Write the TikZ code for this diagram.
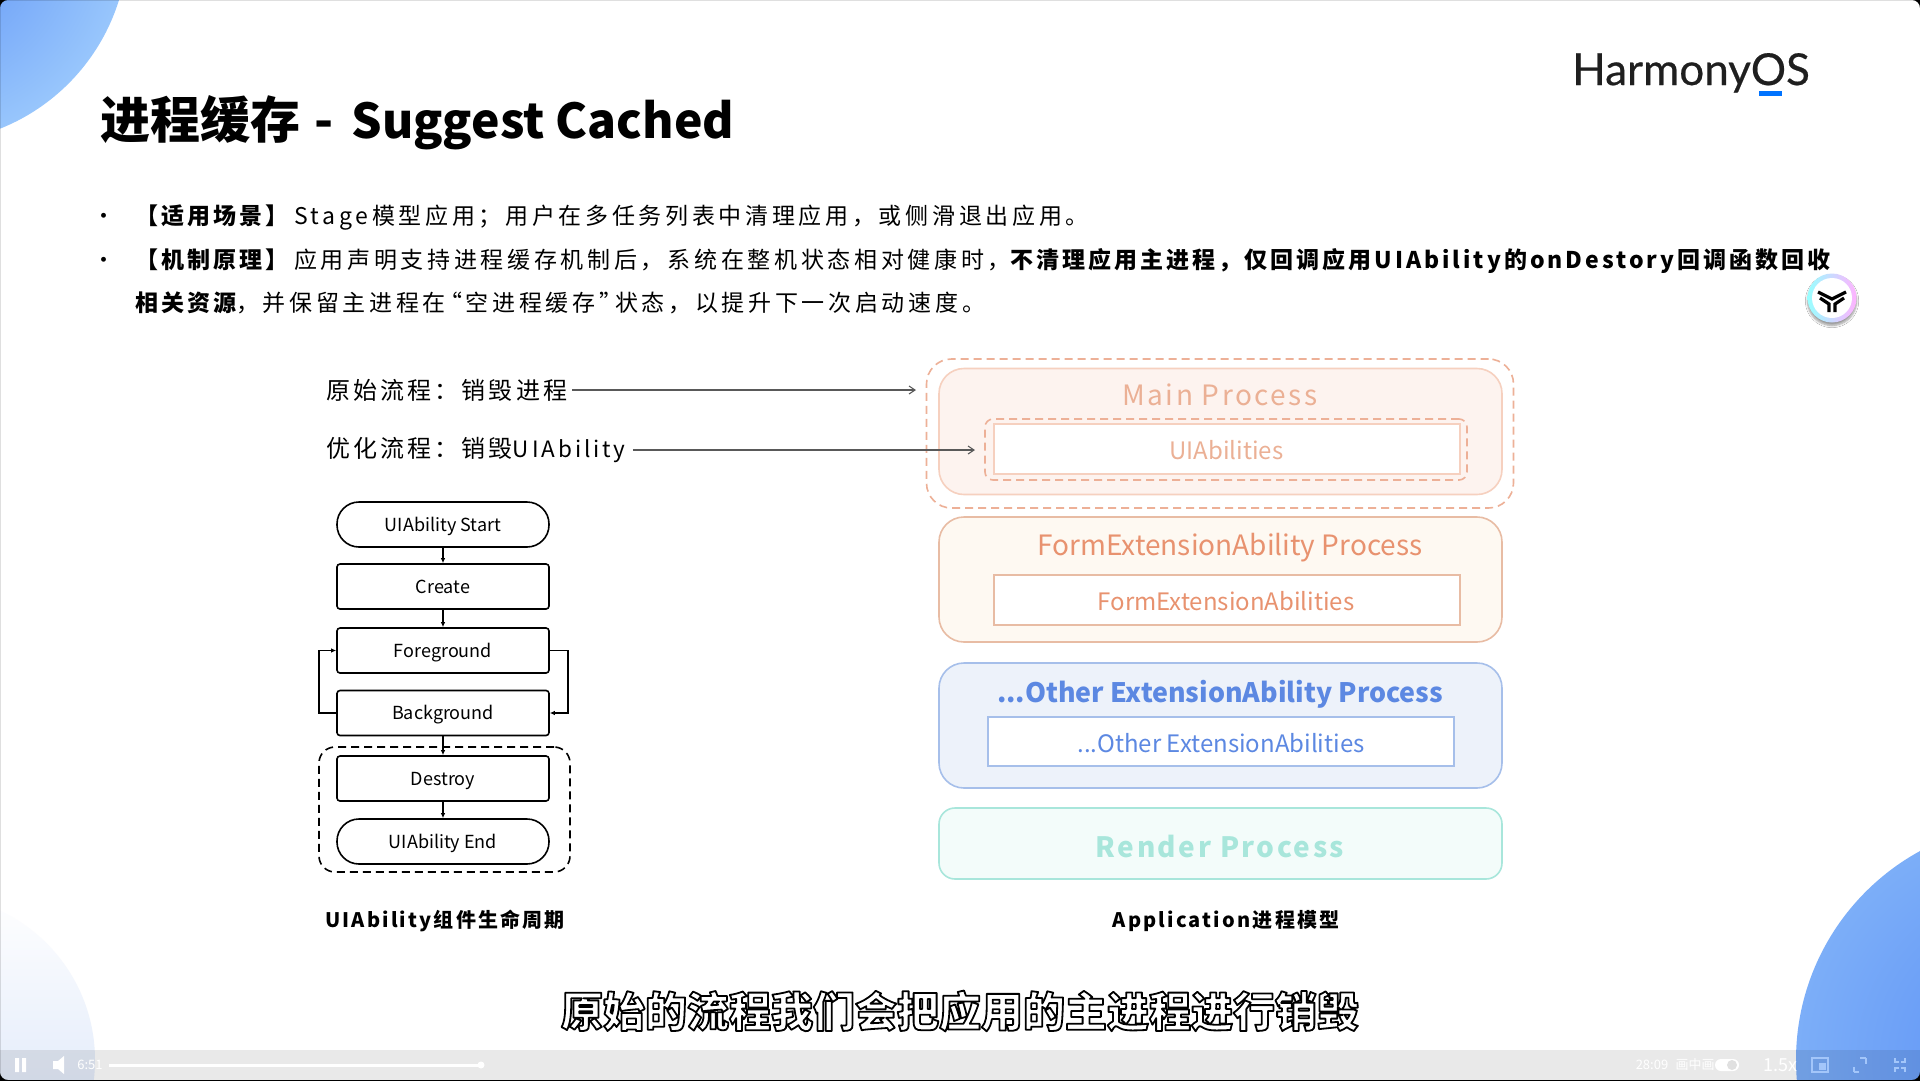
\documentclass[tikz,border=0pt]{standalone}
\usepackage{fontspec}
\usepackage{xcolor}
\usetikzlibrary{arrows.meta,calc,positioning,fit,shadows.blur}
\setmainfont{Noto Sans CJK SC}
\newfontfamily\bodyfont[LetterSpace=16]{Noto Sans CJK SC}
\newfontfamily\notefont[LetterSpace=13]{Noto Sans CJK SC}
\newfontfamily\wordfont{Noto Sans CJK SC}
\newfontfamily\widefont[LetterSpace=9]{Noto Sans CJK SC}
\newfontfamily\capfont[LetterSpace=11]{Noto Sans CJK SC}
\newfontfamily\logofont[FakeBold=0.5]{Lato}
\definecolor{mainline}{HTML}{F6D0BF}
\definecolor{mainfill}{HTML}{FDF3EF}
\definecolor{maintext}{HTML}{EBB095}
\definecolor{mainguide}{HTML}{EDB097}
\definecolor{formline}{HTML}{E8BCA4}
\definecolor{formfill}{HTML}{FEF9F2}
\definecolor{formtext}{HTML}{E8926F}
\definecolor{otherline}{HTML}{A6BFEA}
\definecolor{otherfill}{HTML}{EDF2FA}
\definecolor{othertext}{HTML}{5C88E2}
\definecolor{renderline}{HTML}{A8E6DB}
\definecolor{renderfill}{HTML}{F3FCFA}
\definecolor{blobdeep}{HTML}{5B90F6}
\definecolor{blobedge}{HTML}{98C6FC}
\definecolor{blobright}{HTML}{7CAEF8}
\definecolor{blobpale}{HTML}{D0DEF7}
\newcommand{\px}[1]{\fontsize{#1}{#1}\selectfont}
\newcommand{\zcomma}{\char"FF0C\relax}
\newcommand{\zsemi}{\char"FF1B\relax}
\newcommand{\zcolon}{\char"FF1A\relax}
\newcommand{\leadbf}[1]{{\notefont\bfseries #1}}
\begin{document}
\begin{tikzpicture}[
  x=1pt,y=-1pt,
  >={Straight Barb[length=6pt,width=8pt]},
  flowbox/.style={draw=black, line width=1.6pt, rounded corners=3pt, minimum width=212pt, minimum height=45pt, inner sep=0pt, text height=13pt, text depth=0pt, font=\wordfont\px{18}},
  flowpill/.style={flowbox, rounded corners=22pt},
  flowarrow/.style={-{Latex[length=5pt,width=4.5pt]}, line width=1.5pt, black},
  procbox/.style={line width=1.6pt, rounded corners=25pt, minimum width=563pt, inner sep=0pt},
  abilitybox/.style={fill=white, line width=1.6pt, inner sep=0pt},
  bigtext/.style={text height=20pt, text depth=0pt, inner sep=0pt},
  smalltext/.style={text height=17pt, text depth=0pt, inner sep=0pt, font=\wordfont\px{24}},
  pointer/.style={->, line width=1.1pt, black!65},
  guide/.style={dashed, dash pattern=on 8pt off 5pt, line width=1.6pt},
  barlabel/.style={white, font=\wordfont\px{13}},
  caption/.style={text height=14.5pt, text depth=0pt, inner sep=0pt, font=\capfont\bfseries\px{20}},
  bodyline/.style={anchor=base west, inner sep=0pt, font=\bodyfont\px{23}}
]
\useasboundingbox (0,0) rectangle (1920,1080);
\fill[white] (0,0) rectangle (1920,1080);

% corner blobs, clipped by the page
\begin{scope}
  \clip (0,0) rectangle (1920,1080);
  \shade[inner color=blobdeep, outer color=blobedge] (-75,-60) circle (203);
  \shade[top color=white, bottom color=blobpale] (-70,1060) circle (165);
  \shade[inner color=blobdeep, outer color=blobright] (2034,1060) circle (238);
\end{scope}

% heading and bullets
\node[anchor=base west, inner sep=0pt, font=\bfseries\px{50}] (title) at (100,138) {进程缓存\hspace{14pt}-\hspace{18pt}{\px{48}Suggest Cached}};
\node[bodyline] (dota) at (92,224) {•};
\node[bodyline] (dotb) at (92,268) {•};
\node[bodyline] (linea) at (135,224) {\leadbf{【适用场景】}\kern6pt Stage模型应用\zsemi 用户在多任务列表中清理应用\zcomma 或侧滑退出应用。};
\node[bodyline] (lineb) at (135,268) {\leadbf{【机制原理】}\kern6pt 应用声明支持进程缓存机制后\zcomma 系统在整机状态相对健康时\zcomma\leadbf{不清理应用主进程\zcomma 仅回调应用UIAbility的onDestory回调函数回收}};
\node[bodyline] (linec) at (135,311) {\leadbf{相关资源}\zcomma 并保留主进程在\kern-.3em“空进程缓存”\kern-.3em状态\zcomma 以提升下一次启动速度。};

% logo and round button
\node[anchor=base west, inner sep=0pt, font=\logofont\px{44}, text=black!88] (logo) at (1572,85) {HarmonyOS};
\fill[blue!55!cyan] (1759,91) rectangle (1782,96);
\node[circle, minimum size=49pt, inner sep=0pt, left color=cyan!40, right color=magenta!30, blur shadow={shadow blur steps=6,shadow xshift=0pt,shadow yshift=-3pt}] (badge) at (1832,298) {};
\node[circle, minimum size=40pt, inner sep=0pt, fill=white] (badgein) at (1832,298) {};
\draw[line width=3.2pt, black] (1818,292) -- (1832,299) -- (1846,292) (1820,298) -- (1829,304) -- (1829,312) (1844,298) -- (1835,304) -- (1835,312);

% the two flow notes
\node[anchor=base west, inner sep=0pt, font=\notefont\px{24}] (origin) at (326,399) {原始流程\zcolon 销毁进程};
\node[anchor=base west, inner sep=0pt, font=\notefont\px{24}] (optim) at (326,457) {优化流程\zcolon 销毁{\px{22.5}UIAbility}};

% lifecycle column
\node[flowpill] (start) at (443,524.5) {UIAbility Start};
\node[flowbox] (create) at (443,586.5) {Create};
\node[flowbox] (fore) at (443,650.5) {Foreground};
\node[flowbox] (back) at (443,713) {Background};
\node[flowbox] (destroy) at (443,778.5) {Destroy};
\node[flowpill] (finish) at (443,841.5) {UIAbility End};
\draw[flowarrow] (start) -- (create);
\draw[flowarrow] (create) -- (fore);
\draw[flowarrow] (back) -- (destroy);
\draw[flowarrow] (destroy) -- (finish);
\draw[flowarrow] (back.west) -- ++(-17,0) |- (fore.west);
\draw[flowarrow] (fore.east) -- ++(18,0) |- (back.east);
\node[draw=black, guide, rounded corners=16pt, minimum width=251pt, minimum height=125pt, inner sep=0pt] (endzone) at (444.5,809.5) {};
\node[caption] (lifecap) at (445,920) {UIAbility组件生命周期};

% process column
\node[procbox, draw=mainline, fill=mainfill, minimum height=126pt] (mainproc) at (1220.5,431.5) {};
\node[abilitybox, draw=mainline, minimum width=466pt, minimum height=50pt] (uiab) at (1227,449) {};
\node[bigtext, font=\widefont\px{28}, text=maintext] (maintxt) at (1220,395) {Main Process};
\node[smalltext, text=maintext] (uitext) at (1226.5,451) {UIAbilities};
\node[draw=mainguide, guide, rounded corners=25pt, minimum width=587pt, minimum height=149pt] (mainzone) at (1220,433.5) {};
\node[draw=mainguide, guide, rounded corners=8pt, minimum width=482pt, minimum height=61pt] (uizone) at (1226,449.5) {};

\node[procbox, draw=formline, fill=formfill, minimum height=125pt] (formproc) at (1220.5,579.5) {};
\node[abilitybox, draw=formline, minimum width=466pt, minimum height=50pt] (formab) at (1227,600) {};
\node[bigtext, font=\wordfont\px{28}, text=formtext] (formtxt) at (1230,545) {FormExtensionAbility Process};
\node[smalltext, text=formtext] (formabtxt) at (1226,601.5) {FormExtensionAbilities};

\node[procbox, draw=otherline, fill=otherfill, minimum height=125pt] (otherproc) at (1220.5,725.5) {};
\node[abilitybox, draw=otherline, minimum width=466pt, minimum height=49pt] (otherab) at (1221,741.5) {};
\node[bigtext, font=\wordfont\bfseries\px{26.8}, text=othertext] (othertxt) at (1220,692.5) {...Other ExtensionAbility Process};
\node[smalltext, text=othertext] (otherabtxt) at (1221,744) {...Other ExtensionAbilities};

\node[procbox, draw=renderline, fill=renderfill, rounded corners=16pt, minimum height=71pt] (renderproc) at (1220.5,843.5) {};
\node[bigtext, font=\widefont\bfseries\px{28}, text=renderline] (rendertxt) at (1220,847.5) {Render Process};
\node[caption] (appcap) at (1226,920) {Application进程模型};

\coordinate (maintip) at (916,390);
\coordinate (uitip) at (975,450);
\draw[pointer] (origin.east |- maintip) ++(5,0) -- (maintip);
\draw[pointer] (optim.east |- uitip) ++(7,0) -- (uitip);

% subtitle and video player strip
\fill[black, opacity=.085] (0,1050) rectangle (1920,1080);
\node[font=\bfseries\px{42}, inner sep=0pt, text=white] (subtitle) at (960,1011) {\special{pdf:code 1 j 0 0 0 RG 1.8 w 2 Tr}原始的流程我们会把应用的主进程进行销毁\special{pdf:code 0 Tr 0 j}};
\draw[white, line width=3pt] (109,1065) -- (480,1065);
\fill[white] (481,1065) circle (3.5);
\fill[white] (15,1058) rectangle (19,1072) (22,1058) rectangle (26,1072);
\fill[white] (53,1061) -- (58,1061) -- (64,1056) -- (64,1074) -- (58,1069) -- (53,1069) -- cycle;
\node[barlabel] (elapsed) at (90,1065) {6:51};
\node[barlabel] (total) at (1652,1065) {28:09};
\node[barlabel] (pip) at (1695,1065) {画中画};
\fill[white, rounded corners=6pt] (1715,1059) rectangle (1739,1071);
\fill[black!12] (1732,1065) circle (5);
\node[font=\wordfont\px{18}, white] (speed) at (1780,1065) {1.5x};
\draw[blobright!70!white, line width=1.2pt] (1812,1058) rectangle (1828,1072);
\fill[blobright!70!white] (1819,1063) rectangle (1826,1070);
\draw[blobright!70!white, line width=1.2pt] (1854,1072) -- (1854,1067) (1854,1072) -- (1859,1072) (1866,1058) -- (1860,1058) (1866,1058) -- (1866,1064);
\draw[blobright!70!white, line width=1.2pt] (1895,1058) -- (1895,1062) -- (1899,1062) (1905,1058) -- (1905,1062) -- (1901,1062) (1895,1072) -- (1895,1068) -- (1899,1068) (1905,1072) -- (1905,1068) -- (1901,1068);

% window corners
\fill[black, even odd rule] (-6,-6) rectangle (1926,1086) [rounded corners=8pt] (0,0) rectangle (1920,1080);
\end{tikzpicture}
\end{document}
